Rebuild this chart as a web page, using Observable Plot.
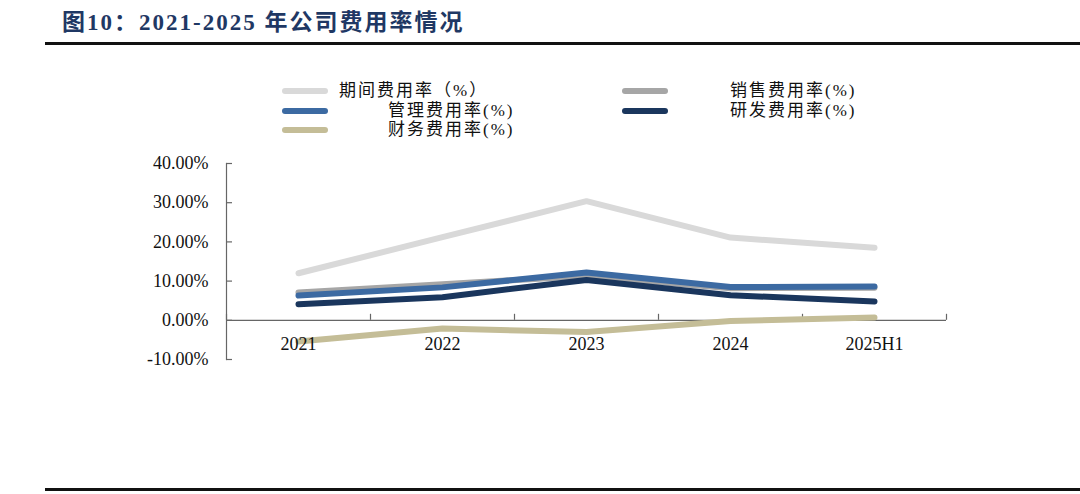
<!DOCTYPE html>
<html>
<head>
<meta charset="utf-8">
<script src="https://cdn.jsdelivr.net/npm/d3@7"></script>
<script src="https://cdn.jsdelivr.net/npm/@observablehq/plot@0.6"></script>
<style>
  html, body { margin: 0; padding: 0; background: #fff; }
  #wrap { position: relative; width: 1080px; height: 494px; overflow: hidden; font-family: "Liberation Serif", "Noto Sans CJK SC", serif; }
  #title { position: absolute; left: 62px; top: 3px; font-size: 23px; font-weight: bold; color: #1f3864; letter-spacing: 2px; white-space: nowrap; font-family: "Liberation Serif", "Noto Sans CJK SC", serif; }
  .rule { position: absolute; left: 45px; width: 1035px; height: 2.5px; background: #111; }
  .sw { position: absolute; height: 6px; width: 46px; border-radius: 3px; }
  .lt { position: absolute; font-size: 17px; color: #111; white-space: nowrap; letter-spacing: 2px; line-height: 18px; }
  #chart { position: absolute; left: 0; top: 0; }
</style>
</head>
<body>
<div id="wrap">
  <div id="title">图10：2021-2025 年公司费用率情况</div>
  <div class="rule" style="top:42px"></div>
  <div class="rule" style="top:488px"></div>
  <div id="legend"></div>
  <div id="chart"></div>
</div>
<script>
const categories = ["2021", "2022", "2023", "2024", "2025H1"];
const seriesNames = ["期间费用率（%）", "销售费用率(%)", "管理费用率(%)", "研发费用率(%)", "财务费用率(%)"];
const periodRate = [12.0, 21.2, 30.4, 21.1, 18.5];
const salesRate = [7.1, 9.2, 11.3, 8.2, 8.3];
const adminRate = [6.3, 8.4, 12.2, 8.5, 8.6];
const rdRate = [4.1, 5.9, 10.3, 6.4, 4.8];
const financeRate = [-5.4, -2.1, -3.0, -0.2, 0.7];
const yTicks = [-10, 0, 10, 20, 30, 40];
const colors = ["#d9d9d9", "#a6a6a6", "#3c6aa2", "#1a365d", "#c4bd97"];

const allSeries = [periodRate, salesRate, adminRate, rdRate, financeRate];
const rows = [];
allSeries.forEach((vals, s) => vals.forEach((v, i) => rows.push({series: seriesNames[s], cat: categories[i], v})));

// legend
const legendLayout = [
  {sw: [282, 91], tx: [339, 82]},
  {sw: [622, 91], tx: [730, 82]},
  {sw: [282, 111], tx: [388, 102]},
  {sw: [622, 111], tx: [730, 102]},
  {sw: [282, 130], tx: [388, 121]}
];
const legend = document.getElementById("legend");
seriesNames.forEach((name, s) => {
  const L = legendLayout[s];
  const sw = document.createElement("div");
  sw.className = "sw";
  sw.style.left = L.sw[0] + "px";
  sw.style.top = (L.sw[1] - 3) + "px";
  sw.style.background = colors[s];
  legend.appendChild(sw);
  const t = document.createElement("div");
  t.className = "lt";
  t.style.left = L.tx[0] + "px";
  t.style.top = L.tx[1] + "px";
  t.textContent = name;
  legend.appendChild(t);
});

const W = 1080, H = 494, mL = 226, mR = 134, mT = 163, mB = 135;
const plotW = W - mL - mR, plotH = H - mT - mB;
const step = plotW / categories.length;
const pxPerUnit = plotH / 50;
const tickLen = 6;
const axisColor = "#666";

const boundaries = categories.map(c => ({c, dx: -step / 2})).concat([{c: categories[categories.length - 1], dx: step / 2}]);

const chart = Plot.plot({
  width: W, height: H,
  marginLeft: mL, marginRight: mR, marginTop: mT, marginBottom: mB,
  style: {fontFamily: "Liberation Serif, serif", background: "transparent", overflow: "visible"},
  x: {type: "point", domain: categories, padding: 0.5, axis: null},
  y: {domain: [-10, 40], axis: null},
  color: {domain: seriesNames, range: colors},
  marks: [
    Plot.frame({anchor: "left", stroke: axisColor, strokeWidth: 1.2}),
    Plot.tickY(yTicks, {y: d => d, stroke: axisColor, strokeWidth: 1.2, insetRight: plotW - tickLen}),
    Plot.ruleY([0], {stroke: axisColor, strokeWidth: 1.2}),
    ...boundaries.map(b => Plot.ruleX([b.c], {x: d => d, dx: b.dx, y1: 0, y2: tickLen / pxPerUnit, stroke: axisColor, strokeWidth: 1.2})),
    Plot.axisY(yTicks, {tickSize: 0, tickPadding: 18, tickFormat: d => d.toFixed(2) + "%", fontSize: 18, fill: "#111", label: null}),
    Plot.line(rows, {x: "cat", y: "v", z: "series", stroke: "series", strokeWidth: 6, strokeLinecap: "round", strokeLinejoin: "round"}),
    Plot.text(categories, {x: d => d, y: 0, dy: 24, text: d => d, fontSize: 18, fill: "#111"})
  ]
});
document.getElementById("chart").appendChild(chart);
</script>
</body>
</html>
